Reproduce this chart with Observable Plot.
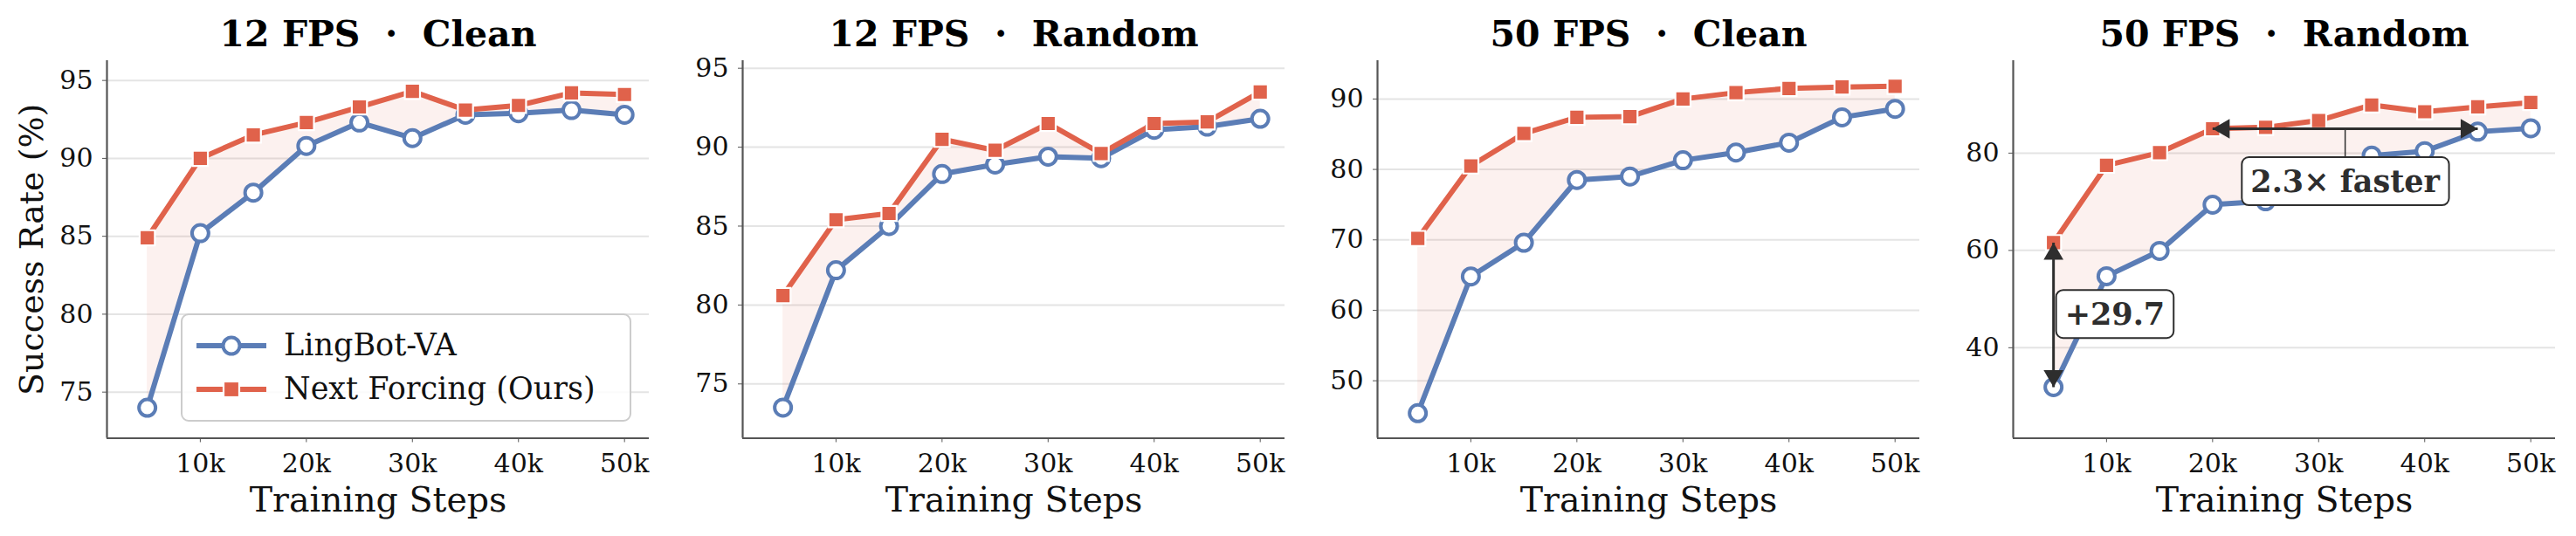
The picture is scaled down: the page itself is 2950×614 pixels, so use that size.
<!DOCTYPE html>
<html><head><meta charset="utf-8">
<script src="https://cdn.jsdelivr.net/npm/d3@7"></script>
<script src="https://cdn.jsdelivr.net/npm/@observablehq/plot@0.6"></script>
<style>
body{margin:0;background:#fff;}
#chart{position:relative;width:2950px;height:614px;overflow:hidden;font-family:"DejaVu Serif",serif;background:#fff;}
.panel{position:absolute;top:0;}
.legend{position:absolute;box-sizing:border-box;border:2px solid #cccccc;border-radius:9px;background:rgba(255,255,255,0.85);}
.legend .row{position:absolute;left:0;height:50px;display:flex;align-items:center;}
.legend .row span{position:absolute;left:116px;font-size:35px;color:#111;white-space:nowrap;line-height:1;}
</style></head><body><div id="chart"></div>
<script>
// ---------- data ----------
const steps = [5, 10, 15, 20, 25, 30, 35, 40, 45, 50];
const xTicks = [10, 20, 30, 40, 50];
const panelTitles = ["12 FPS\u00a0\u00a0·\u00a0\u00a0Clean", "12 FPS\u00a0\u00a0·\u00a0\u00a0Random", "50 FPS\u00a0\u00a0·\u00a0\u00a0Clean", "50 FPS\u00a0\u00a0·\u00a0\u00a0Random"];
const seriesNames = ["LingBot-VA", "Next Forcing (Ours)"];

const lingbot12Clean  = [74.0, 85.2, 87.8, 90.8, 92.3, 91.3, 92.8, 92.9, 93.1, 92.8];
const ours12Clean     = [84.9, 90.0, 91.5, 92.3, 93.3, 94.3, 93.1, 93.4, 94.2, 94.1];
const lingbot12Random = [73.5, 82.2, 85.0, 88.3, 88.9, 89.4, 89.3, 91.1, 91.3, 91.8];
const ours12Random    = [80.6, 85.4, 85.8, 90.5, 89.8, 91.5, 89.6, 91.5, 91.6, 93.5];
const lingbot50Clean  = [45.4, 64.8, 69.6, 78.5, 79.0, 81.3, 82.4, 83.8, 87.4, 88.6];
const ours50Clean     = [70.2, 80.5, 85.1, 87.4, 87.5, 90.0, 90.9, 91.5, 91.7, 91.8];
const lingbot50Random = [31.9, 54.7, 59.9, 69.4, 70.1, 75.5, 79.5, 80.4, 84.4, 85.1];
const ours50Random    = [61.6, 77.5, 80.1, 85.0, 85.3, 86.7, 89.9, 88.5, 89.5, 90.4];

const yTicks12 = [75, 80, 85, 90, 95];
const yTicks50Clean = [50, 60, 70, 80, 90];
const yTicks50Random = [40, 60, 80];

// annotations (panel 4)
const gapStep = 5, gapLabel = "+29.7", gapLabelY = 46.7;
const speedFrom = 20, speedTo = 45, speedY = 85, speedLabel = "2.3× faster", speedLabelY = 74.0;

// ---------- layout / style ----------
const blue = "#5b7db6", red = "#e0624b", spine = "#555555";
const baseSeries = [lingbot12Clean, lingbot12Random, lingbot50Clean, lingbot50Random];
const oursSeries = [ours12Clean, ours12Random, ours50Clean, ours50Random];
const yTickSets = [yTicks12, yTicks12, yTicks50Clean, yTicks50Random];
const yDomains = [[72.04, 96.27], [71.56, 95.48], [41.84, 95.44], [21.4, 99.0]];
const xDomain = [1.2, 52.33];
const axLeft = [122, 850, 1577, 2305];
const axW = 621, ml = 110, mr = 20, mt = 69, mb = 112.5, H = 614;

const chart = document.getElementById("chart");

function panel(i) {
  const rows = steps.map((s, j) => ({step: s, base: baseSeries[i][j], ours: oursSeries[i][j]}));
  const marks = [
    Plot.gridY(yTickSets[i], {stroke: "#e4e4e4", strokeOpacity: 1, strokeWidth: 2}),
    Plot.areaY(rows, {x: "step", y1: "base", y2: "ours", fill: red, fillOpacity: 0.09}),
    Plot.line(rows, {x: "step", y: "base", stroke: blue, strokeWidth: 6}),
    Plot.dot(rows, {x: "step", y: "base", r: 9.5, fill: "white", stroke: blue, strokeWidth: 4}),
    Plot.line(rows, {x: "step", y: "ours", stroke: red, strokeWidth: 6}),
    Plot.dot(rows, {x: "step", y: "ours", symbol: "square", r: 9.8, fill: red, stroke: "white", strokeWidth: 2.2}),
    Plot.ruleX([xDomain[0]], {stroke: spine, strokeWidth: 2.2}),
    Plot.ruleY([yDomains[i][0]], {stroke: spine, strokeWidth: 2.2}),
    Plot.axisX(xTicks, {tickFormat: d => d + "k", tickSize: 5, tickPadding: 13, fontSize: 30, stroke: spine, fill: "#111", label: null}),
    Plot.axisY(yTickSets[i], {tickSize: 5, tickPadding: 11, fontSize: 30, stroke: spine, fill: "#111", label: null}),
    Plot.text([panelTitles[i]], {text: d => d, frameAnchor: "top", lineAnchor: "bottom", dy: -17, fontSize: 41, fontWeight: "bold", fill: "#000"}),
    Plot.text(["Training Steps"], {text: d => d, frameAnchor: "bottom", lineAnchor: "bottom", dy: 83.5, fontSize: 39.5, fill: "#111"})
  ];
  if (i === 0) {
    marks.push(Plot.text(["Success Rate (%)"], {text: d => d, frameAnchor: "left", textAnchor: "middle", lineAnchor: "middle", rotate: -90, dx: -86, fontSize: 38, fill: "#111"}));
  }
  if (i === 3) {
    const gap = [{x: gapStep, top: oursSeries[3][0], bottom: baseSeries[3][0]}];
    const speed = [{from: speedFrom, to: speedTo, y: speedY, mid: (speedFrom + speedTo) / 2}];
    marks.push(
      Plot.link(gap, {x1: "x", x2: "x", y1: "top", y2: "bottom", stroke: "#2e2e2e", strokeWidth: 3}),
      Plot.dot(gap, {x: "x", y: "top", symbol: "triangle", r: 8.4, fill: "#2e2e2e", dy: 13}),
      Plot.dot(gap, {x: "x", y: "bottom", symbol: "triangle", rotate: 180, r: 8.4, fill: "#2e2e2e", dy: -13}),
      Plot.link(speed, {x1: "from", x2: "to", y1: "y", y2: "y", stroke: "#2e2e2e", strokeWidth: 3}),
      Plot.dot(speed, {x: "from", y: "y", symbol: "triangle", rotate: -90, r: 8.4, fill: "#2e2e2e", dx: 13}),
      Plot.dot(speed, {x: "to", y: "y", symbol: "triangle", rotate: 90, r: 8.4, fill: "#2e2e2e", dx: -13}),
      Plot.link(speed, {x1: "mid", x2: "mid", y1: "y", y2: () => speedLabelY, stroke: "#2e2e2e", strokeWidth: 1.5}),
      Plot.text(speed, {x: "mid", y: () => speedLabelY, text: () => speedLabel, fontSize: 35, fontWeight: "bold", fill: "#2e2e2e"}),
      Plot.text(gap, {x: "x", y: () => gapLabelY, text: () => gapLabel, textAnchor: "start", dx: 13, fontSize: 35, fontWeight: "bold", fill: "#2e2e2e"})
    );
  }
  const svg = Plot.plot({
    width: ml + axW + mr, height: H,
    marginLeft: ml, marginRight: mr, marginTop: mt, marginBottom: mb,
    x: {domain: xDomain, type: "linear"},
    y: {domain: yDomains[i]},
    style: {fontFamily: '"DejaVu Serif", serif', background: "transparent", overflow: "visible"},
    marks
  });
  svg.classList.add("panel");
  svg.style.left = (axLeft[i] - ml) + "px";
  svg.style.position = "absolute";
  svg.style.top = "0px";
  chart.appendChild(svg);
  if (i === 3) {
    svg.querySelectorAll("text").forEach(t => {
      if (t.textContent === speedLabel || t.textContent === gapLabel) {
        const b = t.getBBox();
        const padX = 10, padY = 7;
        const r = document.createElementNS("http://www.w3.org/2000/svg", "rect");
        r.setAttribute("x", b.x - padX);
        r.setAttribute("y", b.y - padY);
        r.setAttribute("width", b.width + 2 * padX);
        r.setAttribute("height", b.height + 2 * padY);
        r.setAttribute("rx", 8);
        r.setAttribute("fill", "white");
        r.setAttribute("stroke", "#2e2e2e");
        r.setAttribute("stroke-width", 2);
        const tr = t.getAttribute("transform");
        if (tr) r.setAttribute("transform", tr);
        t.parentNode.insertBefore(r, t);
      }
    });
  }
}
for (let i = 0; i < 4; i++) panel(i);

// legend (panel 1)
const legend = document.createElement("div");
legend.className = "legend";
Object.assign(legend.style, {left: "207px", top: "359px", width: "516px", height: "124px"});
const rowCenters = [34.6, 84.5];
seriesNames.forEach((name, k) => {
  const row = document.createElement("div");
  row.className = "row";
  row.style.top = (rowCenters[k] - 25) + "px";
  row.style.width = "100%";
  const c = k === 0 ? blue : red;
  const marker = k === 0
    ? `<circle cx="40" cy="25" r="9.5" fill="white" stroke="${c}" stroke-width="4"/>`
    : `<rect x="31" y="16" width="18" height="18" fill="${c}" stroke="white" stroke-width="2.2"/>`;
  row.innerHTML = `<svg width="80" height="50" style="position:absolute;left:15.5px;top:0"><line x1="0" y1="25" x2="80" y2="25" stroke="${c}" stroke-width="6"/>${marker}</svg><span>${name}</span>`;
  legend.appendChild(row);
});
chart.appendChild(legend);
</script></body></html>
